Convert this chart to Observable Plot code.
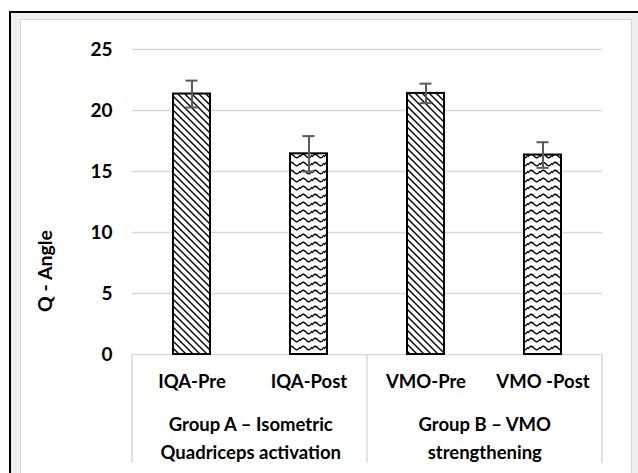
<!DOCTYPE html>
<html>
<head>
<meta charset="utf-8">
<script src="https://cdn.jsdelivr.net/npm/d3@7"></script>
<script src="https://cdn.jsdelivr.net/npm/@observablehq/plot@0.6"></script>
<style>
  html, body { margin: 0; padding: 0; background: #fff; overflow: hidden; }
  #page { position: relative; width: 638px; height: 473px; overflow: hidden; }
  #outer { position: absolute; left: 9px; top: 11px; width: 660px; height: 500px;
           border-left: 2px solid #000; border-top: 2px solid #000; background: #efefef; }
  #inner { position: absolute; left: 20px; top: 19px; width: 610px; height: 480px;
           border: 1px solid #d4d4d4; background: #fff; }
  #chart { position: absolute; left: 0; top: 0; }
</style>
</head>
<body>
<div id="page">
  <div id="outer"></div>
  <div id="inner"></div>
  <div id="chart"></div>
</div>
<script>
const categories = ["IQA-Pre", "IQA-Post", "VMO-Pre", "VMO -Post"];
const phases = ["Pre", "Post", "Pre", "Post"];
const means = [21.35, 16.45, 21.4, 16.35];
const errors = [1.1, 1.45, 0.8, 1.05];
const groupLabels = ["Group A \u2013 Isometric\nQuadriceps activation", "Group B \u2013 VMO\nstrengthening"];
const groupFirst = ["IQA-Pre", "VMO-Pre"];
const yTicks = [0, 5, 10, 15, 20, 25];
const yLabel = "Q - Angle";

const rows = categories.map((c, i) => ({category: c, phase: phases[i], mean: means[i], err: errors[i]}));
const groups = groupLabels.map((g, i) => ({label: g, first: groupFirst[i]}));

const W = 638, H = 473;
const mL = 132, mR = 36, mT = 49, mB = 119;
const step = (W - mL - mR) / categories.length;
const font = "Lato, 'Open Sans', sans-serif";

const boxLines = (index, scales, values, dim) => {
  const ns = "http://www.w3.org/2000/svg";
  const g = document.createElementNS(ns, "g");
  const y0 = dim.height - dim.marginBottom;
  const st = (dim.width - dim.marginLeft - dim.marginRight) / categories.length;
  const xs = [dim.marginLeft, dim.marginLeft + st * 2, dim.width - dim.marginRight];
  for (const x of xs) {
    const l = document.createElementNS(ns, "line");
    l.setAttribute("x1", x); l.setAttribute("x2", x);
    l.setAttribute("y1", y0); l.setAttribute("y2", y0 + 109);
    l.setAttribute("stroke", "#d9d9d9"); l.setAttribute("stroke-width", 1.5);
    g.appendChild(l);
  }
  return g;
};

const plot = Plot.plot({
  width: W, height: H,
  marginLeft: mL, marginRight: mR, marginTop: mT, marginBottom: mB,
  style: {fontFamily: font, background: "transparent", color: "#000", overflow: "visible"},
  x: {domain: categories, paddingInner: 0.68, paddingOuter: 0.34, axis: null},
  y: {domain: [0, 25], axis: null},
  marks: [
    Plot.ruleY(yTicks, {stroke: "#d9d9d9", strokeWidth: 1.5}),
    boxLines,
    Plot.barY(rows.filter(d => d.phase === "Pre"), {x: "category", y: "mean", fill: "url(#diagPat)", stroke: "#000", strokeWidth: 2}),
    Plot.barY(rows.filter(d => d.phase === "Post"), {x: "category", y: "mean", fill: "url(#wavePat)", stroke: "#000", strokeWidth: 2}),
    Plot.ruleX(rows, {x: "category", y1: d => d.mean - d.err, y2: d => d.mean + d.err, stroke: "#595959", strokeWidth: 2}),
    Plot.tickY(rows, {x: "category", y: d => d.mean + d.err, stroke: "#595959", strokeWidth: 2, insetLeft: 12.5, insetRight: 12.5}),
    Plot.tickY(rows, {x: "category", y: d => d.mean - d.err, stroke: "#595959", strokeWidth: 2, insetLeft: 12.5, insetRight: 12.5}),
    Plot.axisY({ticks: yTicks, tickSize: 0, tickPadding: 20, fontSize: 19, fontWeight: "bold", fill: "#000", label: null, tickFormat: d => String(d)}),
    Plot.axisX({tickSize: 0, tickPadding: 20, fontSize: 18.5, fontWeight: "bold", fill: "#000", label: null}),
    Plot.text(groups, {x: "first", text: "label", frameAnchor: "bottom", lineAnchor: "top", dx: step / 2, dy: 57, lineHeight: 1.5, fontSize: 18.5, fontWeight: "bold", fill: "#000"}),
    Plot.text([yLabel], {frameAnchor: "left", textAnchor: "middle", rotate: -90, dx: -87, dy: 69, fontSize: 19.5, fontWeight: "bold", fill: "#000"})
  ]
});

const ns = "http://www.w3.org/2000/svg";
const defs = document.createElementNS(ns, "defs");
defs.innerHTML = `
  <pattern id="diagPat" patternUnits="userSpaceOnUse" width="7" height="7">
    <rect width="7" height="7" fill="#fff"/>
    <path d="M-1.75,-1.75 L8.75,8.75 M-1.75,5.25 L1.75,8.75 M5.25,-1.75 L8.75,1.75" stroke="#000" stroke-width="1.4"/>
  </pattern>
  <pattern id="wavePat" patternUnits="userSpaceOnUse" width="12" height="8">
    <rect width="12" height="8" fill="#fff"/>
    <path d="M0,5 C2,1.5 4,1.5 6,4 C8,6.5 10,6.5 12,3" fill="none" stroke="#000" stroke-width="1.3"/>
  </pattern>`;
plot.insertBefore(defs, plot.firstChild);
document.getElementById("chart").appendChild(plot);
</script>
</body>
</html>
